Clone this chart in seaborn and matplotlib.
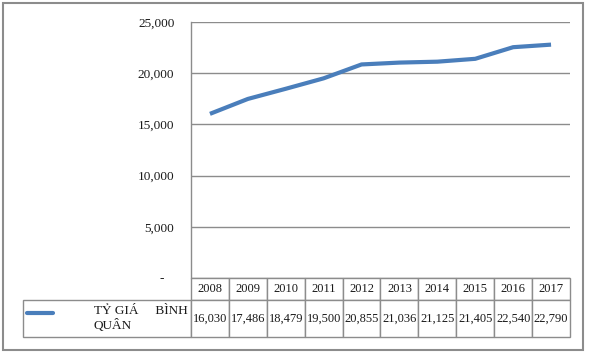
import numpy as np
import pandas as pd
import matplotlib
matplotlib.use("Agg")
import matplotlib.pyplot as plt
from matplotlib.lines import Line2D
from matplotlib.patches import Rectangle
from matplotlib.ticker import FuncFormatter
import seaborn as sns

# ---- data ----
years = ["2008", "2009", "2010", "2011", "2012", "2013", "2014", "2015", "2016", "2017"]
rate = [16030, 17486, 18479, 19500, 20855, 21036, 21125, 21405, 22540, 22790]
series_name = "TỶ GIÁ     BÌNH\nQUÂN"
y_ticks = [0, 5000, 10000, 15000, 20000, 25000]

sns.set_style("white")
plt.rcParams["font.family"] = ["Liberation Serif", "DejaVu Serif"]

blue = "#4a7ebb"
grey = "#8c8c8c"

df = pd.DataFrame({"pos": np.arange(len(years)), "rate": rate})

fig = plt.figure(figsize=(5.93, 3.6), dpi=100)
ax = fig.add_axes([191 / 593, 82 / 360, 379 / 593, 256 / 360])

sns.lineplot(data=df, x="pos", y="rate", ax=ax, color=blue, linewidth=3,
             solid_capstyle="butt")

ax.set_xlim(-0.5, len(years) - 0.5)
ax.set_ylim(0, 25000)
ax.set_yticks(y_ticks)
ax.yaxis.set_major_formatter(
    FuncFormatter(lambda v, p: "-   " if v == 0 else f"{v:,.0f}"))
ax.tick_params(axis="y", length=0, pad=12, labelsize=9.5, labelcolor="#1a1a1a")
ax.set_xticks([])
ax.set_xlabel("")
ax.set_ylabel("")
ax.grid(axis="y", color=grey, linewidth=1)
ax.set_axisbelow(True)
for s in ["top", "right", "bottom"]:
    ax.spines[s].set_visible(False)
ax.spines["left"].set_color(grey)
ax.spines["left"].set_linewidth(1)

# ---- data table under the axes ----
label_w = 168 / 379
col_w = 1 / len(years)
tbl = ax.table(cellText=[[f"{v:,}" for v in rate]],
               colLabels=years,
               colWidths=[col_w] * len(years),
               cellLoc="center",
               bbox=[0, -59 / 256, 1, 59 / 256])
tbl.add_cell(1, -1, width=label_w, height=37, text=series_name, loc="right")
tbl.auto_set_font_size(False)
for (r, c), cell in tbl.get_celld().items():
    cell.set_edgecolor(grey)
    cell.set_linewidth(1)
    cell.set_height(22 if r == 0 else 37)
    cell.get_text().set_fontsize(9.5 if c == -1 else 9)
    cell.get_text().set_color("#1a1a1a")
    if c == -1:
        cell.PAD = 0.02
        cell.get_text().set_multialignment("left")

# legend key inside the row label cell
ax.add_line(Line2D([-164 / 379, -138 / 379], [-35 / 256, -35 / 256],
                   transform=ax.transAxes, color=blue, linewidth=3,
                   clip_on=False))

# outer chart frame
fig.patches.append(Rectangle((3 / 593, 10 / 360), 580 / 593, 347 / 360,
                             transform=fig.transFigure, fill=False,
                             edgecolor=grey, linewidth=1.5))

fig.savefig("out.png", dpi=100)
